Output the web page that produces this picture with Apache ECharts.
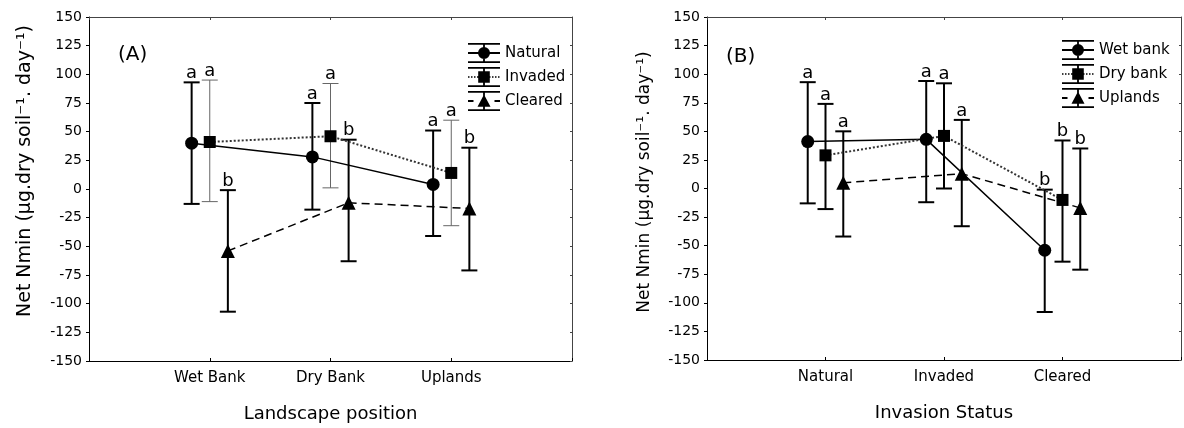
<!DOCTYPE html>
<html><head><meta charset="utf-8">
<script src="https://cdn.jsdelivr.net/npm/echarts@6/dist/echarts.min.js"></script>
<style>html,body{margin:0;padding:0;background:#fff}#c{width:1184px;height:428px}</style>
</head><body><div id="c"></div>
<script>
// ---------- Panel A: by landscape position ----------
const landscapes = ['Wet Bank', 'Dry Bank', 'Uplands'];
const naturalMean  = [40, 28, 4];
const naturalUpper = [93, 75, 51];
const naturalLower = [-13, -18, -41];
const naturalLetters = ['a', 'a', 'a'];
const invadedMean  = [41, 46, 14];
const invadedUpper = [95, 92, 60];
const invadedLower = [-11, 1, -32];
const invadedLetters = ['a', 'a', 'a'];
const clearedMean  = [-54, -12, -17];
const clearedUpper = [-1, 43, 36];
const clearedLower = [-107, -63, -71];
const clearedLetters = ['b', 'b', 'b'];

// ---------- Panel B: by invasion status ----------
const statuses = ['Natural', 'Invaded', 'Cleared'];
const wetBankMean  = [41, 43, -54];
const wetBankUpper = [93, 94, -1];
const wetBankLower = [-13, -12, -108];
const wetBankLetters = ['a', 'a', 'b'];
const dryBankMean  = [29, 46, -10];
const dryBankUpper = [74, 92, 42];
const dryBankLower = [-18, 0, -64];
const dryBankLetters = ['a', 'a', 'b'];
const uplandsMean  = [5, 13, -17];
const uplandsUpper = [50, 60, 35];
const uplandsLower = [-42, -33, -71];
const uplandsLetters = ['a', 'a', 'b'];

const yMin = -150, yMax = 150, yStep = 25;

// ---------- styling ----------
const FONT = 'DejaVu Sans';
const OFF = 0.15;
function pts(vals, k) { return vals.map((v, i) => [i + 1 + k * OFF, v]); }
function bars(lo, hi, k) { return lo.map((l, i) => [i + 1 + k * OFF, l, hi[i]]); }

function errSeries(lo, hi, letters, k, ax, color, w) {
  return {
    type: 'custom', xAxisIndex: ax, yAxisIndex: ax, z: 1, silent: true,
    data: bars(lo, hi, k), encode: { x: 0, y: [1, 2] },
    renderItem: function (params, api) {
      const x = api.value(0);
      const pHi = api.coord([x, api.value(2)]);
      const pLo = api.coord([x, api.value(1)]);
      const st = { stroke: color, lineWidth: w };
      const c = 8;
      return {
        type: 'group', children: [
          { type: 'line', shape: { x1: pHi[0], y1: pHi[1], x2: pLo[0], y2: pLo[1] }, style: st },
          { type: 'line', shape: { x1: pHi[0] - c, y1: pHi[1], x2: pHi[0] + c, y2: pHi[1] }, style: st },
          { type: 'line', shape: { x1: pLo[0] - c, y1: pLo[1], x2: pLo[0] + c, y2: pLo[1] }, style: st },
          { type: 'text', x: pHi[0], y: pHi[1], style: { text: letters[params.dataIndex], textAlign: 'center', textVerticalAlign: 'bottom', font: '18px "' + FONT + '"', fill: '#000' } }
        ]
      };
    }
  };
}

function lineSeries(name, vals, k, ax, symbol, size, ltype, lcolor, lw) {
  return {
    type: 'line', name: name, xAxisIndex: ax, yAxisIndex: ax, z: 3,
    data: pts(vals, k), symbol: symbol, symbolSize: size, showAllSymbol: true,
    itemStyle: { color: '#000' },
    lineStyle: { color: lcolor, width: lw, type: ltype }
  };
}

// legend icons (320 x 200 box)
const caps = 'M0,0 H320 V18 H0 Z M0,182 H320 V200 H0 Z M151,0 H169 V200 H151 Z ';
const solidLine = 'M0,91 H320 V109 H0 Z ';
let dottedLine = '';
for (let x = 0; x < 320; x += 30) dottedLine += 'M' + x + ',92 H' + (x + 15) + ' V108 H' + x + ' Z ';
const dashedLine = 'M0,91 H55 V109 H0 Z M265,91 H320 V109 H265 Z ';
const circ = 'M100,100 A60,60 0 1,1 220,100 A60,60 0 1,1 100,100 Z';
const sq = 'M102,42 H218 V158 H102 Z';
const tri = 'M160,35 L225,158 L95,158 Z';
const iconSolid = 'path://' + caps + solidLine + circ;
const iconDotted = 'path://' + caps + dottedLine + sq;
const iconDashed = 'path://' + caps + dashedLine + tri;

function xAxisBottom(grid, cats) {
  return {
    type: 'value', gridIndex: grid, min: 0, max: 4, interval: 1, position: 'bottom',
    axisLine: { onZero: false, lineStyle: { color: '#000', width: 1 } },
    axisTick: { inside: true, length: 3, lineStyle: { color: '#000' } },
    splitLine: { show: false },
    axisLabel: { margin: 10, color: '#000', fontFamily: FONT, fontSize: 15, formatter: v => cats[v - 1] || '' },
    nameLocation: 'middle', nameGap: 44,
    nameTextStyle: { color: '#000', fontFamily: FONT, fontSize: 18 }
  };
}
function xAxisTop(grid) {
  return {
    type: 'value', gridIndex: grid, min: 0, max: 4, interval: 1, position: 'top',
    axisLine: { onZero: false, lineStyle: { color: '#444', width: 1 } },
    axisTick: { inside: true, length: 3, lineStyle: { color: '#444' } },
    splitLine: { show: false }, axisLabel: { show: false }
  };
}
function yAxisLeft(grid) {
  return {
    type: 'value', gridIndex: grid, min: yMin, max: yMax, interval: yStep, position: 'left',
    axisLine: { show: true, onZero: false, lineStyle: { color: '#000', width: 1 } },
    axisTick: { show: true, inside: false, length: 3, lineStyle: { color: '#000' } },
    splitLine: { show: false },
    axisLabel: { margin: 7, color: '#000', fontFamily: FONT, fontSize: 14 }
  };
}
function yAxisRight(grid) {
  return {
    type: 'value', gridIndex: grid, min: yMin, max: yMax, interval: yStep, position: 'right',
    axisLine: { show: true, onZero: false, lineStyle: { color: '#444', width: 1 } },
    axisTick: { show: true, inside: true, length: 2, lineStyle: { color: '#444' } },
    splitLine: { show: false }, axisLabel: { show: false }
  };
}

const xA = xAxisBottom(0, landscapes); xA.name = 'Landscape position';
const xB = xAxisBottom(1, statuses); xB.name = 'Invasion Status';

const yName = 'Net Nmin (µg.dry soil⁻¹. day⁻¹)';

const option = {
  animation: false,
  backgroundColor: '#fff',
  grid: [
    { left: 89, top: 17, width: 483, height: 346 },
    { left: 707, top: 17, width: 480, height: 343 }
  ],
  xAxis: [xA, xB, xAxisTop(0), xAxisTop(1)],
  yAxis: [yAxisLeft(0), yAxisLeft(1), yAxisRight(0), yAxisRight(1)],
  legend: [
    {
      left: 463, top: 38, orient: 'vertical', itemWidth: 32, itemHeight: 20, itemGap: 4,
      selectedMode: false, textStyle: { fontFamily: FONT, fontSize: 15, color: '#000' },
      data: [{ name: 'Natural', icon: iconSolid }, { name: 'Invaded', icon: iconDotted }, { name: 'Cleared', icon: iconDashed }]
    },
    {
      left: 1057, top: 35, orient: 'vertical', itemWidth: 32, itemHeight: 20, itemGap: 4,
      selectedMode: false, textStyle: { fontFamily: FONT, fontSize: 15, color: '#000' },
      data: [{ name: 'Wet bank', icon: iconSolid }, { name: 'Dry bank', icon: iconDotted }, { name: 'Uplands', icon: iconDashed }]
    }
  ],
  graphic: [
    { type: 'text', x: 118, y: 55, style: { text: '(A)', font: '20px "' + FONT + '"', fill: '#000', textVerticalAlign: 'middle' } },
    { type: 'text', x: 726, y: 57, style: { text: '(B)', font: '20px "' + FONT + '"', fill: '#000', textVerticalAlign: 'middle' } },
    { type: 'text', x: 25, y: 171, rotation: Math.PI / 2, style: { text: yName, font: '19px "' + FONT + '"', fill: '#000', textAlign: 'center', textVerticalAlign: 'middle' } },
    { type: 'text', x: 645, y: 182, rotation: Math.PI / 2, style: { text: yName, font: '17px "' + FONT + '"', fill: '#000', textAlign: 'center', textVerticalAlign: 'middle' } }
  ],
  series: [
    errSeries(naturalLower, naturalUpper, naturalLetters, -1, 0, '#000', 2),
    errSeries(invadedLower, invadedUpper, invadedLetters, 0, 0, '#666', 1),
    errSeries(clearedLower, clearedUpper, clearedLetters, 1, 0, '#000', 2),
    lineSeries('Natural', naturalMean, -1, 0, 'circle', 13, 'solid', '#000', 1.5),
    lineSeries('Invaded', invadedMean, 0, 0, 'rect', 12, [2, 2], '#333', 2),
    lineSeries('Cleared', clearedMean, 1, 0, 'triangle', 14, [8, 5], '#000', 1.5),

    errSeries(wetBankLower, wetBankUpper, wetBankLetters, -1, 1, '#000', 2),
    errSeries(dryBankLower, dryBankUpper, dryBankLetters, 0, 1, '#000', 2),
    errSeries(uplandsLower, uplandsUpper, uplandsLetters, 1, 1, '#000', 2),
    lineSeries('Wet bank', wetBankMean, -1, 1, 'circle', 13, 'solid', '#000', 1.5),
    lineSeries('Dry bank', dryBankMean, 0, 1, 'rect', 12, [2, 2], '#333', 2),
    lineSeries('Uplands', uplandsMean, 1, 1, 'triangle', 14, [8, 5], '#000', 1.5)
  ]
};

const chart = echarts.init(document.getElementById('c'), null, { renderer: 'canvas' });
chart.setOption(option);
</script></body></html>
